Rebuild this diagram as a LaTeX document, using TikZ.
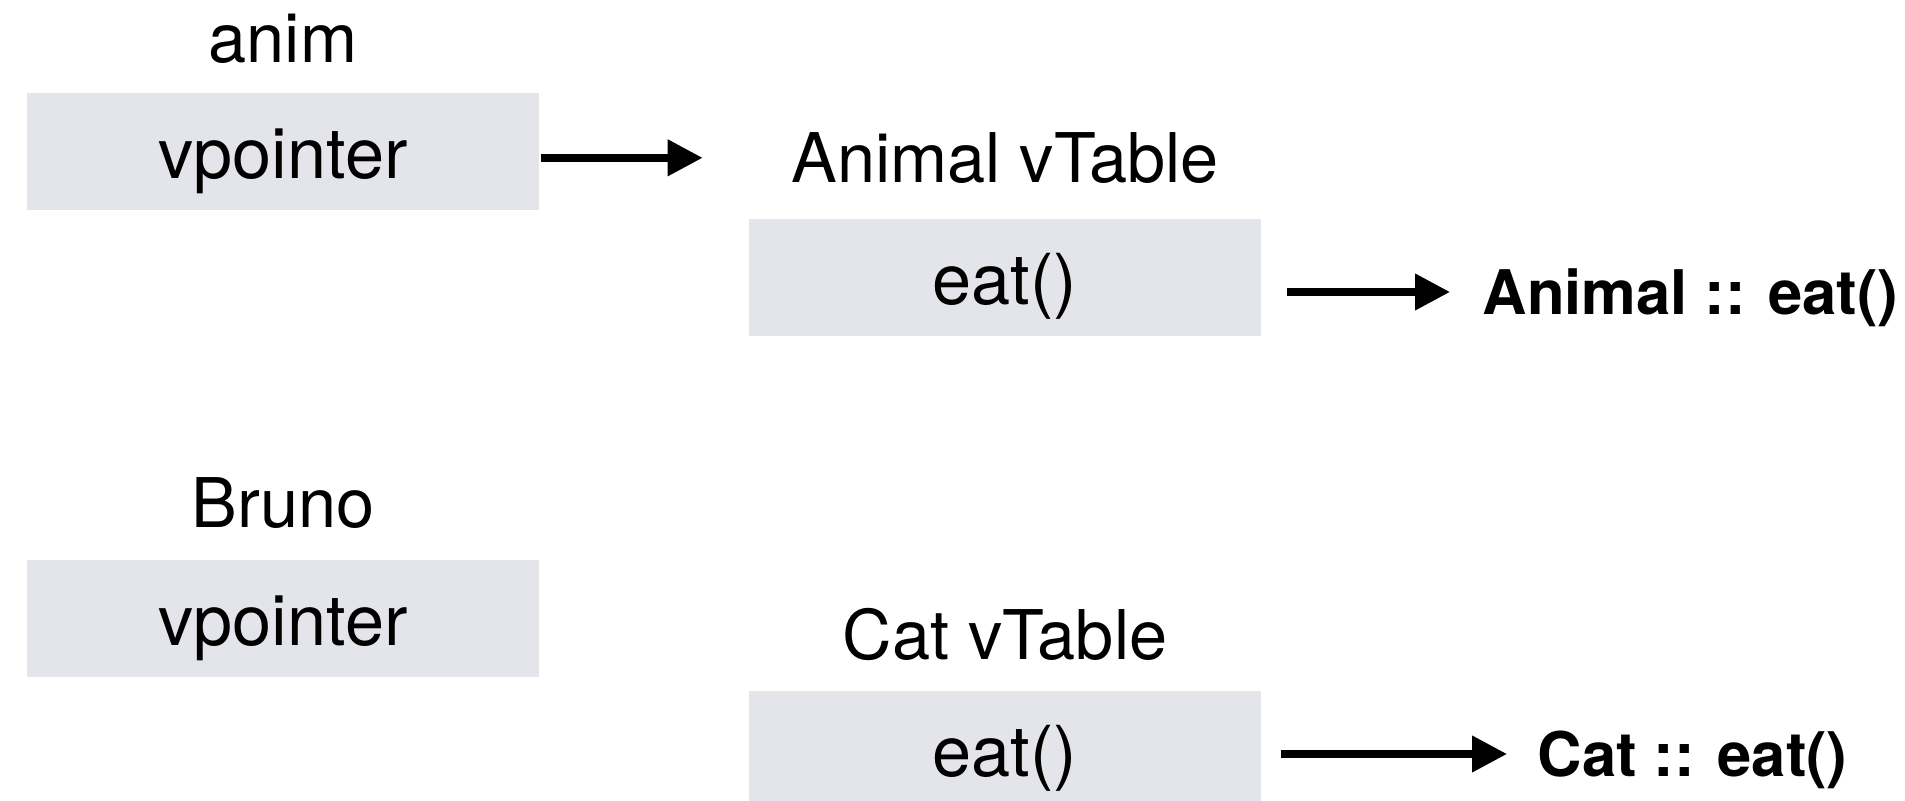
\documentclass[tikz,border=0pt]{standalone}
\usepackage{fontspec}
\setmainfont{TeX Gyre Heros}
\usepackage{tikz}
\usetikzlibrary{positioning, arrows.meta}
\definecolor{boxgray}{RGB}{228,229,234}
\tikzset{
  cell/.style={rectangle, minimum width=5.12cm, minimum height=1.17cm, inner sep=0pt, fill=boxgray, text height=0.54cm, text depth=0pt, font=\fontsize{20}{24}\selectfont},
  title/.style={inner sep=0pt, font=\fontsize{19.5}{23}\selectfont},
  target/.style={inner sep=0pt, text height=0.45cm, text depth=0pt, font=\bfseries\fontsize{17.5}{21}\selectfont},
  arrow/.style={line width=2.1pt, -{Triangle[length=3.5mm,width=3.5mm]}}
}
\begin{document}
\begin{tikzpicture}
        \useasboundingbox (0,0) rectangle (19.05,-8.01);
        % objects
        \node (ptranim) [cell] at (2.83,-1.515) {vpointer};
        \node (anim) [title, above=0.30cm of ptranim, anchor=base] {anim};
        \node (ptrbruno) [cell] at (2.83,-6.185) {vpointer};
        \node (bruno) [title, above=0.32cm of ptrbruno, anchor=base] {Bruno};

        % vtables
        \node (eatanimal) [cell] at (10.05,-2.775) {eat()};
        \node (vtanimal) [title, above=0.36cm of eatanimal, anchor=base] {Animal vTable};
        \node (eatcat) [cell] at (10.05,-7.495) {eat()};
        \node (vtcat) [title, above=0.31cm of eatcat, anchor=base] {Cat vTable};

        % functions
        \node (fnanimal) [target, anchor=west] at (14.82,-2.92) {Animal :: eat()};
        \node (fncat) [target, anchor=west] at (15.37,-7.54) {Cat :: eat()};

        \draw [arrow, shorten <=0.01cm, shorten >=0.88cm] (ptranim.east |- vtanimal.west) -- (vtanimal.west);
        \draw [arrow, shorten <=0.25cm, shorten >=0.32cm] (eatanimal.east |- fnanimal.west) -- (fnanimal.west);
        \draw [arrow, shorten <=0.19cm, shorten >=0.30cm] (eatcat.east |- fncat.west) -- (fncat.west);
    \end{tikzpicture}
\end{document}
